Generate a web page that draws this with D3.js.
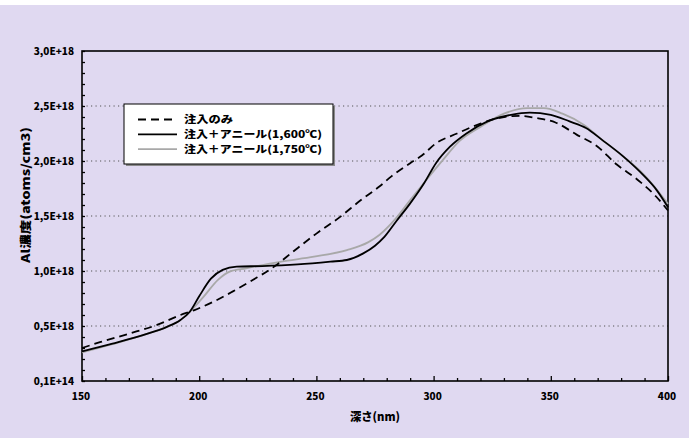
<!DOCTYPE html>
<html>
<head>
<meta charset="utf-8">
<script src="https://cdn.jsdelivr.net/npm/d3@7"></script>
<style>
  html, body { margin: 0; padding: 0; background: #ffffff; }
  svg { display: block; }
  text { font-family: "Noto Sans CJK JP", "Noto Sans", sans-serif; font-weight: 900; fill: #000; }
</style>
</head>
<body>
<svg id="chart" width="696" height="438"></svg>
<script>
// Depth (nm) and Al concentration (×1E18 atoms/cm3) for each profile
const depthImplant = [150, 158, 170, 182, 192, 198, 206, 214, 223, 232, 240, 250, 260, 269, 277, 282, 290, 295, 301, 310, 320, 330, 337, 344, 352, 361, 370, 378, 387, 395, 400];
const concImplant  = [0.30, 0.355, 0.43, 0.51, 0.60, 0.645, 0.72, 0.81, 0.92, 1.04, 1.175, 1.34, 1.49, 1.645, 1.77, 1.86, 1.98, 2.05, 2.16, 2.25, 2.34, 2.40, 2.41, 2.39, 2.35, 2.24, 2.13, 1.97, 1.83, 1.675, 1.55];

const depthAnneal1600 = [150, 163, 178, 186, 192, 196, 200, 205, 210, 216, 227, 242, 256, 263, 270, 275, 279, 284, 290, 296, 301, 307, 314, 323, 333, 341, 350, 358, 365, 372, 381, 390, 395, 400];
const concAnneal1600  = [0.27, 0.34, 0.43, 0.49, 0.555, 0.63, 0.77, 0.93, 1.01, 1.04, 1.045, 1.06, 1.085, 1.10, 1.16, 1.23, 1.31, 1.45, 1.615, 1.80, 1.98, 2.13, 2.25, 2.36, 2.42, 2.44, 2.42, 2.36, 2.30, 2.19, 2.04, 1.86, 1.74, 1.58];

const depthAnneal1750 = [150, 163, 178, 186, 192, 196, 202, 208, 213, 220, 235, 249, 263, 272, 277, 284, 290, 297, 304, 311, 320, 330, 340, 347, 355, 364, 372, 381, 390, 400];
const concAnneal1750  = [0.26, 0.335, 0.43, 0.49, 0.555, 0.63, 0.77, 0.92, 0.995, 1.025, 1.085, 1.13, 1.19, 1.26, 1.33, 1.48, 1.645, 1.83, 2.01, 2.18, 2.31, 2.43, 2.48, 2.48, 2.43, 2.33, 2.19, 2.04, 1.87, 1.61];

const seriesNames = ["注入のみ", "注入＋アニール(1,600℃)", "注入＋アニール(1,750℃)"];

const xTickValues = [150, 200, 250, 300, 350, 400];
const yTickValues = [0, 0.5, 1.0, 1.5, 2.0, 2.5, 3.0];
const yTickLabels = ["0,1E+14", "0,5E+18", "1,0E+18", "1,5E+18", "2,0E+18", "2,5E+18", "3,0E+18"];

const xTitle = "深さ(nm)";
const yTitle = "Al濃度(atoms/cm3)";

const svg = d3.select("#chart");
const W = 696, H = 438;
const plot = { left: 82, right: 668, top: 51, bottom: 381 };
const tickFont = "\"Noto Sans CJK JP\", sans-serif";

// background panel
svg.append("rect").attr("x", 0).attr("y", 5).attr("width", 689).attr("height", H - 5).attr("fill", "#e0d9f1");

const x = d3.scaleLinear().domain([150, 400]).range([plot.left, plot.right]);
const y = d3.scaleLinear().domain([0, 3.0]).range([plot.bottom, plot.top]);

// dotted horizontal gridlines
svg.append("g").selectAll("line")
  .data(yTickValues.filter(v => v > 0 && v < 3))
  .join("line")
  .attr("x1", plot.left).attr("x2", plot.right)
  .attr("y1", d => y(d)).attr("y2", d => y(d))
  .attr("stroke", "#555").attr("stroke-width", 1)
  .attr("stroke-dasharray", "1.2,3.3");

// plot frame
svg.append("rect")
  .attr("x", plot.left).attr("y", plot.top)
  .attr("width", plot.right - plot.left).attr("height", plot.bottom - plot.top)
  .attr("fill", "none").attr("stroke", "#000").attr("stroke-width", 1.6);

// x axis: minor ticks every 10 nm, major every 50, pointing inward
const xAxis = d3.axisBottom(x)
  .tickValues(d3.range(150, 401, 10))
  .tickSizeInner(-3).tickSizeOuter(0)
  .tickFormat("");
const gx = svg.append("g").attr("transform", `translate(0,${plot.bottom})`).call(xAxis);
gx.select(".domain").remove();
gx.selectAll(".tick line").attr("stroke", "#000").attr("stroke-width", 1.3)
  .attr("y2", d => (d % 50 === 0 ? -5 : -3));

const gxLabels = svg.append("g").attr("transform", `translate(0,${plot.bottom})`)
  .call(d3.axisBottom(x).tickValues(xTickValues).tickSize(0).tickPadding(12).tickFormat(d3.format("d")));
gxLabels.select(".domain").remove();
gxLabels.selectAll("text").attr("font-size", 10).attr("font-family", tickFont).attr("font-weight", 900).attr("dx", -1.5);

// y axis: minor ticks every 0.1, labels at 0.5 steps
const yAxis = d3.axisLeft(y)
  .tickValues(d3.range(0, 31).map(i => i / 10))
  .tickSizeInner(-3).tickSizeOuter(0)
  .tickFormat("");
const gy = svg.append("g").attr("transform", `translate(${plot.left},0)`).call(yAxis);
gy.select(".domain").remove();
gy.selectAll(".tick line").attr("stroke", "#000").attr("stroke-width", 1.3);

const gyLabels = svg.append("g").attr("transform", `translate(${plot.left},0)`)
  .call(d3.axisLeft(y).tickValues(yTickValues).tickSize(0).tickPadding(8)
    .tickFormat((d, i) => yTickLabels[i]));
gyLabels.select(".domain").remove();
gyLabels.selectAll("text").attr("font-size", 10).attr("font-family", tickFont).attr("font-weight", 900);

// axis titles
svg.append("text").attr("x", 375).attr("y", 421)
  .attr("text-anchor", "middle").attr("font-size", 11.5)
  .attr("textLength", 50).attr("lengthAdjust", "spacingAndGlyphs").text(xTitle);
svg.append("text")
  .attr("transform", `translate(29.5,195) rotate(-90)`)
  .attr("text-anchor", "middle").attr("font-size", 11.5)
  .attr("textLength", 136).attr("lengthAdjust", "spacingAndGlyphs").text(yTitle);

// profiles
const line = d3.line().x(d => x(d[0])).y(d => y(d[1])).curve(d3.curveMonotoneX);
const series = [
  { name: seriesNames[0], len: 49, pts: d3.zip(depthImplant, concImplant), color: "#000", width: 1.8, dash: "8,5" },
  { name: seriesNames[1], len: 138, pts: d3.zip(depthAnneal1600, concAnneal1600), color: "#000", width: 1.8, dash: null },
  { name: seriesNames[2], len: 138, pts: d3.zip(depthAnneal1750, concAnneal1750), color: "#a8a8a8", width: 1.8, dash: null }
];
const drawOrder = [2, 1, 0];
svg.append("g").selectAll("path")
  .data(drawOrder.map(i => series[i]))
  .join("path")
  .attr("d", d => line(d.pts))
  .attr("fill", "none")
  .attr("stroke", d => d.color)
  .attr("stroke-width", d => d.width)
  .attr("stroke-dasharray", d => d.dash);

// legend
const lg = svg.append("g");
const box = { x: 124, y: 104, w: 209, h: 60 };
lg.append("rect").attr("x", box.x + 2).attr("y", box.y + 2).attr("width", box.w).attr("height", box.h).attr("fill", "#8a8a8a");
lg.append("rect").attr("x", box.x).attr("y", box.y).attr("width", box.w).attr("height", box.h)
  .attr("fill", "#fff").attr("stroke", "#000").attr("stroke-width", 1);
const rows = lg.selectAll("g.row").data(series).join("g").attr("class", "row")
  .attr("transform", (d, i) => `translate(0,${119.5 + i * 14.8})`);
rows.append("line").attr("x1", 138).attr("x2", 177).attr("y1", 0).attr("y2", 0)
  .attr("stroke", d => d.color).attr("stroke-width", d => d.width).attr("stroke-dasharray", d => d.dash);
rows.append("text").attr("x", 184).attr("y", 0).attr("dy", "0.38em").attr("font-size", 10)
  .attr("textLength", d => d.len).attr("lengthAdjust", "spacingAndGlyphs").text(d => d.name);
</script>
</body>
</html>
